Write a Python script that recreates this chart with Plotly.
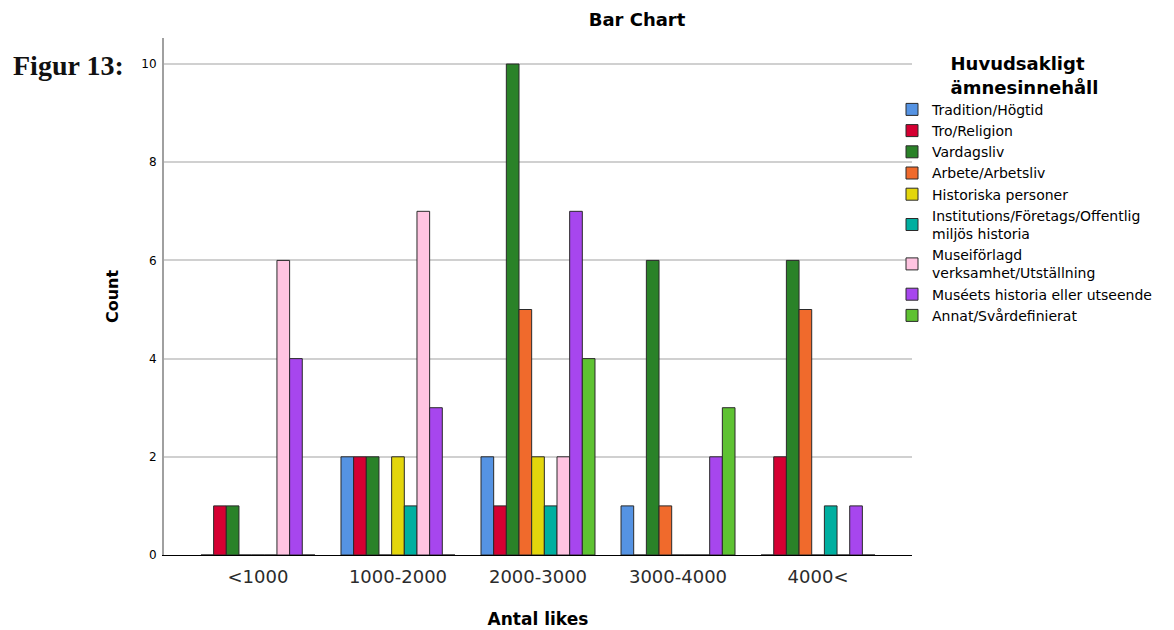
import plotly.graph_objects as go

categories = ["<1000", "1000-2000", "2000-3000", "3000-4000", "4000<"]
series_names = [
    "Tradition/Högtid",
    "Tro/Religion",
    "Vardagsliv",
    "Arbete/Arbetsliv",
    "Historiska personer",
    "Institutions/Företags/Offentlig<br>miljös historia",
    "Museiförlagd<br>verksamhet/Utställning",
    "Muséets historia eller utseende",
    "Annat/Svårdefinierat",
]
tradition = [0, 2, 2, 1, 0]
tro = [1, 2, 1, 0, 2]
vardagsliv = [1, 2, 10, 6, 6]
arbete = [0, 0, 5, 1, 5]
historiska = [0, 2, 2, 0, 0]
institutions = [0, 1, 1, 0, 1]
museiforlagd = [6, 7, 2, 0, 0]
museets = [4, 3, 7, 2, 1]
annat = [0, 0, 4, 3, 0]
series_values = [tradition, tro, vardagsliv, arbete, historiska,
                 institutions, museiforlagd, museets, annat]
colors = ["#5593e3", "#d50032", "#2a8228", "#f06a2c", "#e3d60c",
          "#00afa0", "#ffc4e1", "#a746ee", "#5ec232"]

# page body has an 8px margin: work in figure coordinates = screen - 8
W, H = 1166, 622
L, T, R, B = 156, 30, 262, 75
PW = W - L - R
PH = H - T - B
SANS = "DejaVu Sans, Verdana, sans-serif"

fig = go.Figure()
for name, vals, col in zip(series_names, series_values, colors):
    fig.add_trace(go.Bar(
        x=categories, y=vals, name=name,
        marker=dict(color=col, line=dict(color="#2a2a2a", width=1)),
    ))

fig.update_layout(
    width=W, height=H,
    paper_bgcolor="white", plot_bgcolor="white",
    margin=dict(l=L, r=R, t=T, b=B, autoexpand=False),
    barmode="group", bargap=0.186, bargroupgap=0,
    font=dict(family=SANS, color="#000000"),
    title=dict(text="<b>Bar Chart</b>", x=629 / W, xanchor="center",
               y=1 - 12 / H, yanchor="middle",
               font=dict(size=18, color="#000000", family=SANS)),
    showlegend=True,
    legend=dict(
        x=1.0 - 20 / PW, xanchor="left", y=1.0 - 9 / PH, yanchor="top",
        title=dict(text="<b>Huvudsakligt<br>ämnesinnehåll</b>", side="top center",
                   font=dict(size=18, color="#000000", family=SANS)),
        font=dict(size=14, color="#000000", family=SANS),
        bgcolor="rgba(0,0,0,0)",
        tracegroupgap=0,
    ),
    xaxis=dict(
        range=[-0.671, 4.671],
        showline=True, linecolor="#000000", linewidth=1,
        showgrid=False, ticks="", tickfont=dict(size=18, color="#2b2b2b", family=SANS),
        ticklabelstandoff=5,
        title=dict(text="<b>Antal likes</b>", font=dict(size=17, color="#000000", family=SANS),
                   standoff=27),
    ),
    yaxis=dict(
        range=[0, 10.53],
        tickvals=[0, 2, 4, 6, 8, 10],
        showline=True, linecolor="#a0a0a0", linewidth=2,
        showgrid=True, gridcolor="#d0d0d0", gridwidth=1.5,
        zeroline=False, ticks="", tickfont=dict(size=12, color="#000000", family=SANS),
        ticklabelstandoff=3,
        title=dict(text="<b>Count</b>", font=dict(size=16, color="#000000", family=SANS),
                   standoff=19),
    ),
)

fig.add_annotation(
    text="<b>Figur 13:</b>", xref="paper", yref="paper",
    x=(3 - L) / PW, xanchor="left",
    y=1 - (58 - T) / PH, yanchor="middle",
    showarrow=False,
    font=dict(family="Liberation Serif, Times New Roman, serif", size=28, color="#111111"),
)

fig.write_html("out.html")
